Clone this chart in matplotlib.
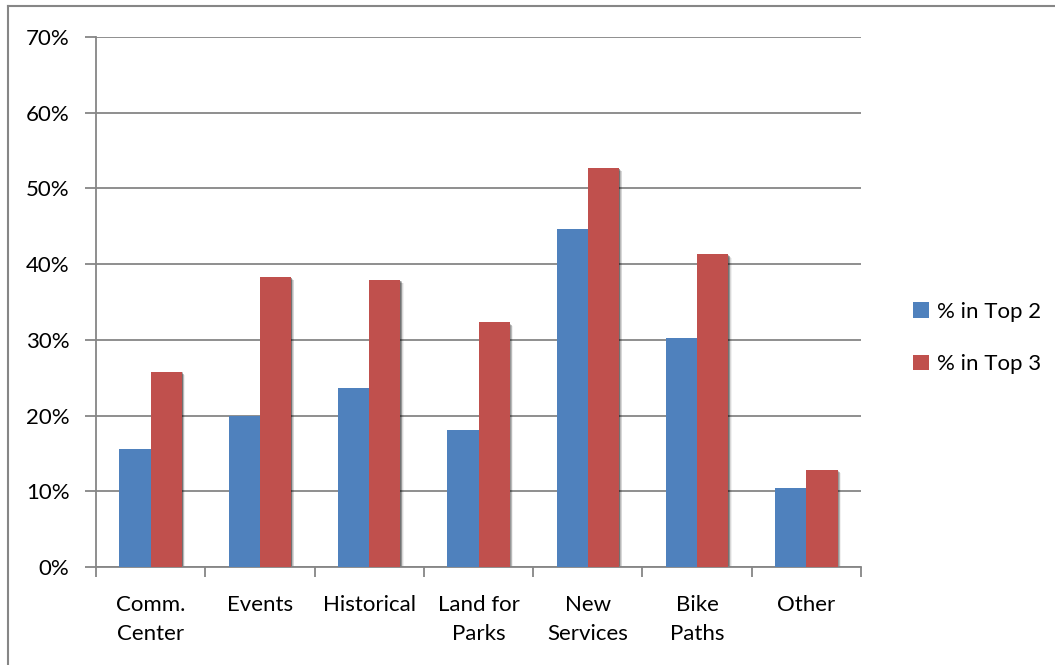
import matplotlib
matplotlib.use("Agg")
import matplotlib.pyplot as plt
import numpy as np
from matplotlib.patches import Rectangle
from matplotlib.lines import Line2D

categories = ["Comm.\nCenter", "Events", "Historical", "Land for\nParks", "New\nServices", "Bike\nPaths", "Other"]
top2 = [15.6, 20.0, 23.6, 18.1, 44.6, 30.3, 10.4]
top3 = [25.8, 38.3, 37.9, 32.3, 52.7, 41.3, 12.85]
series_names = ["% in Top 2", "% in Top 3"]
colors = ["#4F81BD", "#C0504D"]
yticks = [0, 10, 20, 30, 40, 50, 60, 70]

plt.rcParams['font.family'] = ['Lato', 'DejaVu Sans']
FS = 16
W, H = 1055, 665
fig = plt.figure(figsize=(W/100, H/100), dpi=100)

# outer chart border (left and top visible)
fig.add_artist(Line2D([8/W, 8/W], [0, 1-6/H], transform=fig.transFigure, color="#868686", lw=1.5))
fig.add_artist(Line2D([8/W, 1], [1-6/H, 1-6/H], transform=fig.transFigure, color="#868686", lw=1.5))

ax = fig.add_axes([96/W, 1-567/H, (861-96)/W, (567-37)/H])
n = len(categories)
x = np.arange(n)
bw = 1/3.5

def shadows(xs, vals, w):
    for xx, v in zip(xs, vals):
        for k, a in zip([5, 4, 3, 2, 1], [0.06, 0.10, 0.14, 0.18, 0.24]):
            dx = k * 0.006
            dy = k * 0.07
            ax.add_patch(Rectangle((xx - w/2 + dx, -dy), w, v - dy*0.3,
                                   facecolor="black", alpha=a, lw=0, zorder=2))

shadows(x - bw/2, top2, bw)
shadows(x + bw/2, top3, bw)
ax.bar(x - bw/2, top2, bw, color=colors[0], zorder=3, label=series_names[0])
ax.bar(x + bw/2, top3, bw, color=colors[1], zorder=3, label=series_names[1])

ax.set_xlim(-0.5, n - 0.5)
ax.set_ylim(0, 70)
ax.set_yticks(yticks)
ax.set_yticklabels([f"{t}%" for t in yticks], fontsize=FS)
ax.yaxis.grid(True, color="#868686", lw=1.3, zorder=0)
ax.set_axisbelow(True)
ax.set_xticks(np.arange(-0.5, n, 1.0))
ax.set_xticklabels([])
ax.set_xticks(x, minor=True)
ax.set_xticklabels(categories, minor=True, fontsize=FS, linespacing=1.6)
ax.tick_params(axis='x', which='minor', length=0, pad=20)
ax.tick_params(axis='x', which='major', length=7, color="#868686", width=1.3)
ax.tick_params(axis='y', length=8, color="#868686", width=1.3, pad=11)
for s in ["top", "right"]:
    ax.spines[s].set_visible(False)
for s in ["left", "bottom"]:
    ax.spines[s].set_color("#868686")
    ax.spines[s].set_linewidth(1.3)

handles = [Rectangle((0, 0), 1, 1, facecolor=c) for c in colors]
fig.legend(handles, series_names, loc="center left", bbox_to_anchor=(893/W, 1-338/H),
           frameon=False, fontsize=FS, handlelength=0.7, handleheight=0.7,
           handletextpad=0.4, labelspacing=1.45)

fig.savefig("out.png", dpi=100)
